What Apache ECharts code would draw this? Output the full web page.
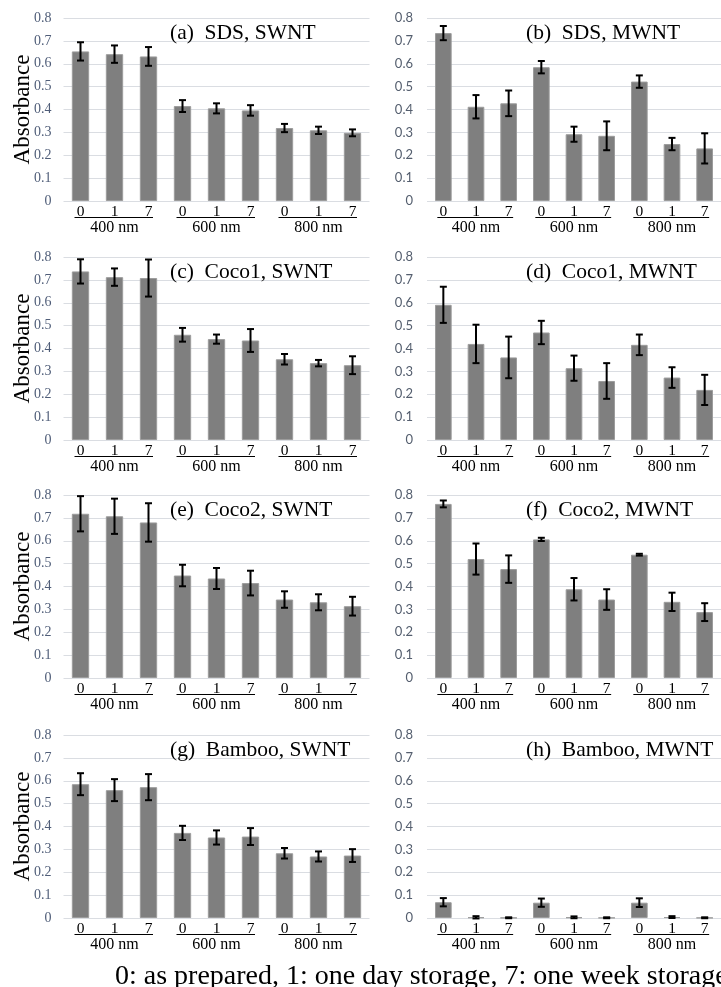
<!DOCTYPE html>
<html><head><meta charset="utf-8">
<script src="https://cdn.jsdelivr.net/npm/echarts@6/dist/echarts.min.js"></script>
<style>html,body{margin:0;padding:0;background:#fff}#chart{width:721px;height:987px}</style>
</head><body><div id="chart"></div>
<script>
// ---- data ----
const days = ['0', '1', '7', '0', '1', '7', '0', '1', '7'];
const wavelengths = ['400 nm', '600 nm', '800 nm'];
const yMin = 0, yMax = 0.8, yStep = 0.1;
const panelTitles = ['(a)  SDS, SWNT', '(b)  SDS, MWNT', '(c)  Coco1, SWNT', '(d)  Coco1, MWNT',
                     '(e)  Coco2, SWNT', '(f)  Coco2, MWNT', '(g)  Bamboo, SWNT', '(h)  Bamboo, MWNT'];
const footnote = '0: as prepared, 1: one day storage, 7: one week storage';
const yAxisTitle = 'Absorbance';

const sdsSwnt      = [0.654, 0.642, 0.632, 0.415, 0.405, 0.396, 0.319, 0.309, 0.298];
const sdsSwntErr   = [0.040, 0.038, 0.041, 0.026, 0.022, 0.023, 0.018, 0.016, 0.015];
const sdsMwnt      = [0.734, 0.412, 0.427, 0.585, 0.292, 0.285, 0.522, 0.249, 0.230];
const sdsMwntErr   = [0.031, 0.051, 0.056, 0.027, 0.033, 0.063, 0.027, 0.027, 0.066];
const coco1Swnt    = [0.737, 0.712, 0.708, 0.460, 0.441, 0.435, 0.353, 0.336, 0.327];
const coco1SwntErr = [0.053, 0.038, 0.081, 0.030, 0.020, 0.050, 0.023, 0.014, 0.039];
const coco1Mwnt    = [0.591, 0.420, 0.361, 0.470, 0.314, 0.258, 0.416, 0.273, 0.219];
const coco1MwntErr = [0.079, 0.084, 0.091, 0.051, 0.055, 0.078, 0.045, 0.045, 0.066];
const coco2Swnt    = [0.718, 0.707, 0.680, 0.448, 0.435, 0.415, 0.343, 0.331, 0.314];
const coco2SwntErr = [0.077, 0.077, 0.084, 0.047, 0.046, 0.054, 0.036, 0.035, 0.041];
const coco2Mwnt    = [0.761, 0.520, 0.476, 0.606, 0.388, 0.343, 0.539, 0.333, 0.288];
const coco2MwntErr = [0.015, 0.068, 0.060, 0.007, 0.049, 0.045, 0.004, 0.040, 0.039];
const bambooSwnt    = [0.585, 0.559, 0.572, 0.372, 0.352, 0.356, 0.283, 0.269, 0.273];
const bambooSwntErr = [0.048, 0.048, 0.057, 0.031, 0.031, 0.037, 0.023, 0.022, 0.028];
const bambooMwnt    = [0.069, 0.003, 0.001, 0.067, 0.003, 0.001, 0.067, 0.004, 0.001];
const bambooMwntErr = [0.018, 0.005, 0.002, 0.018, 0.004, 0.002, 0.019, 0.004, 0.002];

const panelValues = [sdsSwnt, sdsMwnt, coco1Swnt, coco1Mwnt, coco2Swnt, coco2Mwnt, bambooSwnt, bambooMwnt];
const panelErrors = [sdsSwntErr, sdsMwntErr, coco1SwntErr, coco1MwntErr, coco2SwntErr, coco2MwntErr, bambooSwntErr, bambooMwntErr];

// ---- layout ----
const gridTops = [18, 257, 495, 735];
const gridHeight = 183;
const colLeft = [63.5, 427];
const gridWidth = 306;
const serif = '"Liberation Serif", "Times New Roman", serif';
const sans = 'Lato, "Liberation Sans", sans-serif';

const perGroup = days.length / wavelengths.length;
const groupRanges = wavelengths.map((w, g) => [g * perGroup, g * perGroup + perGroup - 1]);

const chart = echarts.init(document.getElementById('chart'), null, {renderer: 'canvas'});

const grid = [], xAxis = [], yAxis = [], series = [], title = [];

function renderErr(params, api) {
  const x = api.value(0), v = api.value(1), e = api.value(2);
  const hi = api.coord([x, v + e]);
  const lo = api.coord([x, v - e]);
  const h = 3.5;
  const st = {stroke: '#000', lineWidth: 2};
  return {type: 'group', children: [
    {type: 'line', shape: {x1: hi[0], y1: hi[1], x2: lo[0], y2: lo[1]}, style: st},
    {type: 'line', shape: {x1: hi[0] - h, y1: hi[1], x2: hi[0] + h, y2: hi[1]}, style: st},
    {type: 'line', shape: {x1: lo[0] - h, y1: lo[1], x2: lo[0] + h, y2: lo[1]}, style: st}
  ]};
}
function renderGroupLine(params, api) {
  const a = api.coord([api.value(0), 0]);
  const b = api.coord([api.value(1), 0]);
  const y = Math.round(a[1] + 16) + 0.5;
  return {type: 'line', shape: {x1: a[0] - 6, y1: y, x2: b[0] + 4.5, y2: y},
          style: {stroke: '#000', lineWidth: 1}};
}

for (let i = 0; i < 8; i++) {
  const row = Math.floor(i / 2), col = i % 2;
  const top = gridTops[row];
  grid.push({left: colLeft[col], top: top, width: gridWidth, height: gridHeight, containLabel: false});
  xAxis.push({
    type: 'category', gridIndex: i, data: days, position: 'bottom',
    axisLine: {show: false}, axisTick: {show: false}, splitLine: {show: false},
    axisLabel: {interval: 0, margin: 3, color: '#000', fontFamily: serif, fontSize: 15.5}
  });
  xAxis.push({
    type: 'category', gridIndex: i, data: wavelengths, position: 'bottom',
    axisLine: {show: false}, axisTick: {show: false}, splitLine: {show: false},
    axisLabel: {interval: 0, margin: 19, color: '#000', fontFamily: serif, fontSize: 16}
  });
  yAxis.push({
    type: 'value', gridIndex: i, min: yMin, max: yMax, interval: yStep,
    axisLine: {show: false}, axisTick: {show: false},
    splitLine: {show: true, lineStyle: {color: '#dadde2', width: 1}},
    axisLabel: col === 0
      ? {margin: 12, color: '#4f5d78', fontFamily: serif, fontSize: 14}
      : {margin: 14, color: '#545e6e', fontFamily: sans, fontSize: 13},
    name: col === 0 ? yAxisTitle : '',
    nameLocation: 'middle', nameGap: 29, nameMoveOverlap: false,
    nameTextStyle: {fontFamily: serif, fontSize: 23, color: '#000'}
  });
  series.push({
    type: 'bar', name: panelTitles[i], xAxisIndex: 2 * i, yAxisIndex: i,
    data: panelValues[i], barWidth: '51%',
    itemStyle: {color: '#7f7f7f', borderColor: '#9c9c9c', borderWidth: 1},
    emphasis: {disabled: true}, silent: true
  });
  series.push({
    type: 'custom', name: panelTitles[i] + ' error', xAxisIndex: 2 * i, yAxisIndex: i,
    data: panelValues[i].map((v, j) => [j, v, panelErrors[i][j]]),
    encode: {x: 0, y: 1}, renderItem: renderErr, z: 5, silent: true, clip: false
  });
  series.push({
    type: 'custom', name: panelTitles[i] + ' groups', xAxisIndex: 2 * i, yAxisIndex: i,
    data: groupRanges, encode: {x: 0}, renderItem: renderGroupLine, z: 5, silent: true, clip: false
  });
  title.push({
    text: panelTitles[i], left: col === 0 ? 165 : 521, top: top - 1,
    textStyle: {fontFamily: serif, fontSize: 21.5, fontWeight: 'normal', color: '#000'}
  });
}
title.push({
  text: footnote, left: 110, top: 958,
  textStyle: {fontFamily: serif, fontSize: 28, fontWeight: 'normal', color: '#000'}
});

chart.setOption({
  animation: false,
  backgroundColor: '#fff',
  title: title, grid: grid, xAxis: xAxis, yAxis: yAxis, series: series
});
</script>
</body></html>
